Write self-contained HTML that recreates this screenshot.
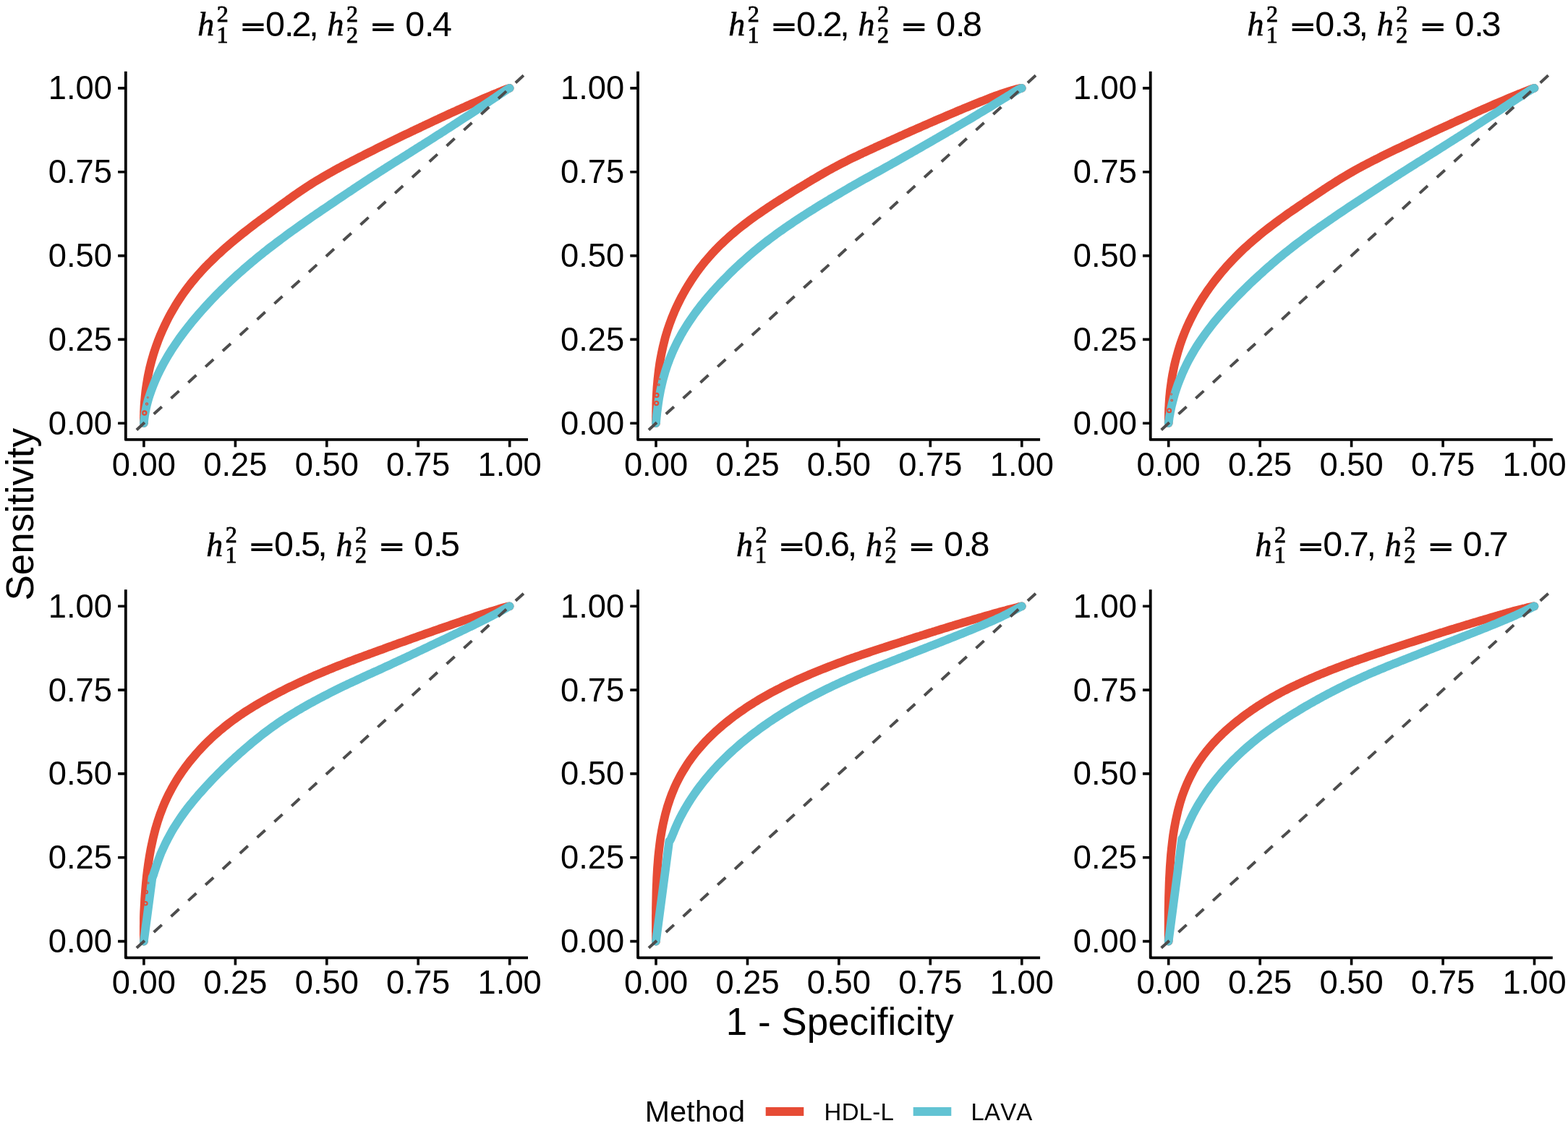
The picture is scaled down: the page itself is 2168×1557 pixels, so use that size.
<!DOCTYPE html>
<html lang="en">
<head>
<meta charset="utf-8">
<title>ROC curves: HDL-L vs LAVA</title>
<style>
html,body{margin:0;padding:0;background:#fff;}
body{width:2168px;height:1557px;overflow:hidden;}
svg{display:block;}
text{font-family:"Liberation Sans",sans-serif;fill:#000;font-kerning:none;}
.tick{font-size:45.3px;}
.axt{font-size:53px;}
.ttl{font-size:47px;}
.md{font-size:48.5px;}
.mi{font-family:"Liberation Serif",serif;font-style:italic;font-size:46px;stroke:#000;stroke-width:0.6px;}
.ms{font-family:"Liberation Serif",serif;font-size:32px;stroke:#000;stroke-width:0.8px;}
.meq{font-family:"DejaVu Sans","Liberation Sans",sans-serif;font-weight:200;font-size:43.5px;stroke:#000;stroke-width:1.9px;}
.lgt{font-size:41px;letter-spacing:0.3px;}
.lgl{font-size:33px;letter-spacing:0.2px;}
</style>
</head>
<body>
<svg width="2168" height="1557" viewBox="0 0 2168 1557" role="img" aria-label="ROC curves comparing HDL-L and LAVA across six heritability settings">
<rect x="0" y="0" width="2168" height="1557" fill="#ffffff"/>

<g id="panel1">
<clipPath id="cp0"><rect x="173.8" y="98.7" width="556.2" height="509.2"/></clipPath>
<path d="M198.9 585.2 L198.9 584.9 L198.9 584.9 L198.9 584.8 L198.9 584.8 L198.9 584.7 L198.9 584.7 L198.9 584.6 L198.9 584.5 L198.9 584.4 L198.9 584.2 L198.9 584.1 L198.9 583.9 L198.9 583.8 L198.9 583.6 L198.9 583.3 L198.9 583.1 L198.9 582.8 L198.9 582.5 L198.9 582.1 L198.9 581.7 L198.9 581.2 L198.9 580.7 L198.9 580.2 L198.9 579.5 L198.9 578.8 L198.9 578.0 L199.0 577.1 L199.0 576.2 L199.0 575.1 L199.0 573.9 L199.1 572.6 L199.1 571.1 L199.1 569.5 L199.2 567.7 L199.3 565.7 L199.4 563.6 L199.5 561.2 L199.7 558.6 L199.9 555.7 L200.2 552.6 L200.5 549.2 L200.9 545.4 L201.3 541.3 L201.9 536.8 L202.6 532.0 L203.5 526.6 L204.5 520.8 L205.8 514.5 L207.3 507.6 L209.2 500.2 L212.3 489.4 L215.4 480.0 L218.4 471.7 L221.4 464.1 L224.5 457.0 L227.5 450.5 L230.5 444.3 L233.4 438.5 L236.4 433.0 L239.4 427.8 L242.4 422.7 L245.4 417.9 L248.4 413.3 L251.4 408.8 L254.4 404.5 L257.5 400.3 L260.5 396.3 L263.6 392.3 L266.7 388.5 L269.7 384.9 L272.8 381.3 L275.9 377.8 L279.0 374.4 L282.1 371.1 L285.2 367.8 L288.3 364.7 L291.5 361.6 L294.6 358.5 L297.7 355.5 L300.8 352.6 L303.9 349.8 L307.0 346.9 L310.1 344.2 L313.2 341.4 L316.3 338.8 L319.4 336.1 L322.5 333.5 L325.6 331.0 L328.7 328.4 L331.8 325.9 L334.9 323.4 L338.0 321.0 L341.1 318.6 L344.1 316.2 L347.2 313.8 L350.3 311.5 L353.3 309.2 L356.4 306.9 L359.4 304.6 L362.5 302.4 L365.5 300.1 L368.6 297.9 L371.6 295.7 L374.6 293.5 L377.6 291.3 L380.6 289.1 L383.6 286.9 L386.6 284.7 L389.6 282.6 L392.6 280.4 L395.6 278.3 L398.5 276.1 L401.5 274.0 L404.5 271.9 L407.4 269.8 L410.4 267.7 L413.4 265.6 L416.4 263.6 L419.4 261.6 L422.4 259.6 L425.4 257.6 L428.4 255.7 L431.4 253.8 L434.4 251.9 L437.5 250.0 L440.5 248.2 L443.5 246.4 L446.6 244.6 L449.7 242.8 L452.7 241.1 L455.8 239.3 L458.9 237.6 L461.9 235.9 L465.0 234.2 L468.1 232.5 L471.2 230.9 L474.2 229.2 L477.3 227.6 L480.4 226.0 L483.5 224.4 L486.6 222.8 L489.7 221.2 L492.7 219.6 L495.8 218.0 L498.9 216.4 L502.0 214.9 L505.1 213.3 L508.1 211.8 L511.2 210.2 L514.3 208.7 L517.4 207.2 L520.4 205.6 L523.5 204.1 L526.6 202.6 L529.7 201.1 L532.7 199.6 L535.8 198.1 L538.8 196.6 L541.9 195.1 L545.0 193.6 L548.0 192.1 L551.1 190.6 L554.1 189.1 L557.2 187.6 L560.3 186.1 L563.3 184.7 L566.4 183.2 L569.4 181.7 L572.5 180.3 L575.5 178.8 L578.6 177.4 L581.6 175.9 L584.7 174.5 L587.7 173.0 L590.8 171.6 L593.8 170.2 L596.9 168.7 L599.9 167.3 L603.0 165.9 L606.0 164.5 L609.0 163.0 L612.1 161.6 L615.1 160.2 L618.2 158.8 L621.2 157.4 L624.3 156.0 L627.3 154.6 L630.4 153.3 L633.4 151.9 L636.5 150.5 L639.5 149.1 L642.6 147.8 L645.6 146.4 L648.7 145.0 L651.7 143.7 L654.8 142.3 L657.8 141.0 L660.9 139.7 L663.9 138.3 L667.0 137.0 L670.0 135.7 L673.1 134.4 L676.2 133.1 L679.2 131.8 L682.3 130.5 L685.4 129.3 L688.4 128.0 L691.5 126.8 L694.6 125.5 L698.4 124.0 L700.8 123.1 L702.3 122.6 L703.2 122.3 L703.8 122.1 L704.1 122.0 L704.7 121.9" fill="none" stroke="#e64b35" stroke-width="11.7" stroke-linecap="round" stroke-linejoin="round"/>
<path d="M198.9 585.2 L198.9 585.2 L198.9 585.2 L198.9 585.2 L198.9 585.2 L198.9 585.2 L198.9 585.2 L198.9 585.2 L198.9 585.2 L198.9 585.2 L198.9 585.2 L198.9 585.2 L198.9 585.2 L198.9 585.2 L198.9 585.1 L198.9 585.1 L198.9 585.1 L198.9 585.1 L198.9 585.0 L198.9 585.0 L198.9 585.0 L198.9 584.9 L198.9 584.8 L198.9 584.7 L198.9 584.6 L199.0 584.5 L199.0 584.4 L199.0 584.2 L199.0 583.9 L199.0 583.7 L199.1 583.4 L199.1 583.0 L199.1 582.5 L199.2 582.0 L199.3 581.4 L199.3 580.7 L199.4 579.8 L199.6 578.8 L199.7 577.7 L199.9 576.4 L200.1 574.9 L200.4 573.1 L200.7 571.1 L201.2 568.8 L201.7 566.1 L202.3 563.1 L203.1 559.7 L204.1 555.8 L205.3 551.4 L206.9 546.5 L208.8 541.0 L211.9 532.7 L215.0 525.2 L218.1 518.4 L221.2 512.0 L224.3 506.0 L227.4 500.3 L230.5 494.9 L233.5 489.8 L236.6 484.8 L239.7 480.1 L242.8 475.5 L245.9 471.0 L248.9 466.7 L252.0 462.5 L255.0 458.5 L258.1 454.5 L261.2 450.6 L264.2 446.8 L267.3 443.1 L270.3 439.5 L273.3 435.9 L276.4 432.4 L279.4 429.0 L282.4 425.6 L285.5 422.2 L288.5 419.0 L291.5 415.7 L294.6 412.5 L297.6 409.4 L300.6 406.3 L303.6 403.3 L306.7 400.3 L309.7 397.3 L312.7 394.3 L315.7 391.5 L318.8 388.6 L321.8 385.8 L324.8 383.0 L327.9 380.2 L330.9 377.5 L334.0 374.8 L337.0 372.1 L340.1 369.5 L343.1 366.9 L346.2 364.3 L349.2 361.7 L352.3 359.2 L355.3 356.6 L358.4 354.2 L361.5 351.7 L364.5 349.2 L367.6 346.8 L370.6 344.4 L373.7 342.0 L376.8 339.7 L379.9 337.3 L382.9 335.0 L386.0 332.7 L389.1 330.4 L392.2 328.1 L395.2 325.8 L398.3 323.6 L401.4 321.3 L404.4 319.1 L407.5 316.9 L410.6 314.7 L413.7 312.5 L416.7 310.4 L419.8 308.2 L422.9 306.0 L426.0 303.9 L429.0 301.8 L432.1 299.6 L435.2 297.5 L438.2 295.4 L441.3 293.3 L444.4 291.2 L447.4 289.1 L450.5 287.1 L453.6 285.0 L456.6 282.9 L459.7 280.8 L462.7 278.8 L465.8 276.7 L468.8 274.7 L471.9 272.6 L474.9 270.6 L478.0 268.5 L481.0 266.5 L484.1 264.5 L487.1 262.5 L490.1 260.4 L493.2 258.4 L496.2 256.4 L499.3 254.4 L502.3 252.4 L505.3 250.4 L508.4 248.4 L511.4 246.4 L514.5 244.4 L517.5 242.5 L520.6 240.5 L523.6 238.5 L526.7 236.6 L529.7 234.6 L532.8 232.7 L535.8 230.7 L538.9 228.8 L541.9 226.9 L545.0 224.9 L548.0 223.0 L551.1 221.1 L554.2 219.1 L557.2 217.2 L560.3 215.3 L563.3 213.3 L566.4 211.4 L569.4 209.5 L572.5 207.6 L575.5 205.6 L578.6 203.7 L581.6 201.8 L584.7 199.9 L587.7 197.9 L590.8 196.0 L593.8 194.1 L596.9 192.1 L599.9 190.2 L603.0 188.2 L606.0 186.3 L609.1 184.4 L612.1 182.4 L615.2 180.5 L618.2 178.5 L621.3 176.5 L624.3 174.6 L627.3 172.6 L630.4 170.7 L633.4 168.7 L636.5 166.7 L639.5 164.7 L642.6 162.7 L645.6 160.8 L648.7 158.8 L651.7 156.8 L654.8 154.8 L657.8 152.8 L660.9 150.7 L663.9 148.7 L667.0 146.7 L670.0 144.6 L673.1 142.6 L676.2 140.5 L679.2 138.5 L682.3 136.4 L685.4 134.4 L688.4 132.3 L691.5 130.2 L694.6 128.1 L698.4 125.5 L700.8 124.0 L702.3 123.0 L703.2 122.5 L703.8 122.2 L704.1 122.1 L704.7 121.9" fill="none" stroke="#62c3d3" stroke-width="11.7" stroke-linecap="round" stroke-linejoin="round"/>
<circle cx="199.8" cy="571.0" r="2.6" fill="none" stroke="#e64b35" stroke-width="2.2"/>
<circle cx="203.0" cy="558.6" r="1.5" fill="none" stroke="#e64b35" stroke-width="1.3"/>
<circle cx="204.4" cy="549.6" r="1.0" fill="none" stroke="#e64b35" stroke-width="1.0"/>
<line x1="173.6" y1="608.4" x2="730.0" y2="98.7" stroke="#4d4d4d" stroke-width="4" stroke-dasharray="15 17.3" stroke-dashoffset="-20.7" clip-path="url(#cp0)"/>
<path d="M173.8 98.7 V607.9 H730.0" fill="none" stroke="#000" stroke-width="3.8" stroke-linejoin="round"/>
<path d="M198.9 607.9 v10.3 M173.8 585.2 h-10.7 M325.4 607.9 v10.3 M173.8 469.4 h-10.7 M451.8 607.9 v10.3 M173.8 353.6 h-10.7 M578.2 607.9 v10.3 M173.8 237.7 h-10.7 M704.7 607.9 v10.3 M173.8 121.9 h-10.7" fill="none" stroke="#000" stroke-width="3.6"/>
<text class="tick" x="198.9" y="657.8" text-anchor="middle">0.00</text>
<text class="tick" x="155.0" y="600.6" text-anchor="end">0.00</text>
<text class="tick" x="325.4" y="657.8" text-anchor="middle">0.25</text>
<text class="tick" x="155.0" y="484.8" text-anchor="end">0.25</text>
<text class="tick" x="451.8" y="657.8" text-anchor="middle">0.50</text>
<text class="tick" x="155.0" y="369.0" text-anchor="end">0.50</text>
<text class="tick" x="578.2" y="657.8" text-anchor="middle">0.75</text>
<text class="tick" x="155.0" y="253.1" text-anchor="end">0.75</text>
<text class="tick" x="704.7" y="657.8" text-anchor="middle">1.00</text>
<text class="tick" x="155.0" y="137.3" text-anchor="end">1.00</text>
<text class="ttl"><tspan class="mi" x="273.3" y="49.4">h</tspan><tspan class="ms" x="299.8" y="30.2">2</tspan><tspan class="ms" x="299.4" y="59.0">1</tspan> <tspan class="meq" x="331.8" y="50.7">=</tspan><tspan class="md" x="367.0 393.1 403.6 427.2" y="50.0">0.2,</tspan> <tspan class="mi" x="452.4" y="49.4">h</tspan><tspan class="ms" x="479.0" y="30.2">2</tspan><tspan class="ms" x="479.0" y="59.0">2</tspan> <tspan class="meq" x="511.6" y="50.7">=</tspan> <tspan class="md" x="560.3 586.9 597.9" y="50.0">0.4</tspan></text>
</g>
<g id="panel2">
<clipPath id="cp1"><rect x="882.0" y="98.7" width="556.1" height="509.2"/></clipPath>
<path d="M907.0 585.2 L907.0 585.1 L907.0 585.1 L907.0 585.1 L907.0 585.1 L907.0 585.0 L907.0 585.0 L907.0 584.9 L907.0 584.9 L907.0 584.8 L907.0 584.7 L907.0 584.6 L907.0 584.5 L907.0 584.4 L907.0 584.2 L907.0 584.0 L907.0 583.8 L907.0 583.5 L907.0 583.2 L907.0 582.8 L907.0 582.4 L907.0 581.9 L907.0 581.3 L907.0 580.6 L907.0 579.9 L907.0 579.0 L907.0 578.0 L907.0 576.9 L907.0 575.7 L907.1 574.3 L907.1 572.7 L907.1 571.0 L907.1 569.0 L907.2 566.9 L907.2 564.5 L907.3 561.8 L907.3 558.9 L907.4 555.7 L907.5 552.2 L907.7 548.4 L907.9 544.2 L908.2 539.7 L908.5 534.7 L909.0 529.4 L909.5 523.6 L910.2 517.4 L911.0 510.7 L912.0 503.5 L913.3 495.8 L914.9 487.6 L916.8 478.8 L919.9 466.4 L923.1 455.9 L926.3 446.7 L929.4 438.4 L932.5 430.9 L935.6 424.0 L938.7 417.6 L941.7 411.6 L944.8 406.0 L947.8 400.7 L950.8 395.6 L953.8 390.8 L956.8 386.1 L959.8 381.7 L962.8 377.4 L965.8 373.3 L968.8 369.3 L971.8 365.5 L974.8 361.8 L977.9 358.2 L980.9 354.7 L983.9 351.3 L987.0 348.0 L990.0 344.8 L993.1 341.7 L996.1 338.7 L999.2 335.7 L1002.3 332.8 L1005.4 330.0 L1008.5 327.2 L1011.5 324.5 L1014.6 321.9 L1017.7 319.3 L1020.8 316.8 L1023.9 314.3 L1027.0 311.9 L1030.1 309.5 L1033.2 307.1 L1036.3 304.8 L1039.4 302.6 L1042.5 300.3 L1045.6 298.1 L1048.7 295.9 L1051.8 293.8 L1054.9 291.7 L1058.0 289.6 L1061.0 287.5 L1064.1 285.5 L1067.2 283.4 L1070.3 281.4 L1073.3 279.4 L1076.4 277.5 L1079.5 275.5 L1082.5 273.6 L1085.6 271.7 L1088.6 269.8 L1091.7 267.9 L1094.7 266.0 L1097.8 264.1 L1100.8 262.3 L1103.8 260.4 L1106.9 258.6 L1109.9 256.7 L1112.9 254.9 L1115.9 253.1 L1118.9 251.2 L1121.9 249.4 L1124.9 247.7 L1127.9 245.9 L1131.0 244.1 L1134.0 242.3 L1137.0 240.6 L1140.0 238.9 L1143.0 237.2 L1146.0 235.5 L1149.1 233.8 L1152.1 232.2 L1155.1 230.6 L1158.2 228.9 L1161.2 227.3 L1164.2 225.8 L1167.3 224.2 L1170.4 222.7 L1173.4 221.1 L1176.5 219.6 L1179.5 218.1 L1182.6 216.7 L1185.7 215.2 L1188.7 213.7 L1191.8 212.3 L1194.9 210.8 L1198.0 209.4 L1201.0 208.0 L1204.1 206.6 L1207.2 205.2 L1210.2 203.7 L1213.3 202.3 L1216.4 200.9 L1219.4 199.6 L1222.5 198.2 L1225.6 196.8 L1228.6 195.4 L1231.7 194.0 L1234.7 192.7 L1237.8 191.3 L1240.9 189.9 L1243.9 188.5 L1247.0 187.2 L1250.0 185.8 L1253.1 184.4 L1256.1 183.1 L1259.2 181.7 L1262.2 180.4 L1265.3 179.0 L1268.3 177.7 L1271.4 176.3 L1274.4 175.0 L1277.4 173.7 L1280.5 172.3 L1283.5 171.0 L1286.6 169.7 L1289.6 168.3 L1292.7 167.0 L1295.7 165.7 L1298.7 164.4 L1301.8 163.1 L1304.8 161.8 L1307.9 160.5 L1310.9 159.2 L1314.0 157.9 L1317.0 156.6 L1320.0 155.3 L1323.1 154.0 L1326.1 152.7 L1329.2 151.5 L1332.2 150.2 L1335.3 148.9 L1338.3 147.7 L1341.4 146.4 L1344.4 145.2 L1347.5 143.9 L1350.5 142.7 L1353.6 141.5 L1356.6 140.3 L1359.7 139.1 L1362.7 137.9 L1365.8 136.7 L1368.8 135.5 L1371.9 134.3 L1374.9 133.1 L1378.0 132.0 L1381.1 130.9 L1384.2 129.8 L1387.2 128.8 L1390.3 127.8 L1393.4 126.8 L1396.5 125.8 L1399.6 124.9 L1402.6 124.0 L1406.5 122.9 L1408.9 122.4 L1410.4 122.1 L1411.3 122.0 L1411.9 121.9 L1412.2 121.9 L1412.8 121.9" fill="none" stroke="#e64b35" stroke-width="11.7" stroke-linecap="round" stroke-linejoin="round"/>
<path d="M907.0 585.2 L907.0 585.2 L907.0 585.2 L907.0 585.2 L907.0 585.2 L907.0 585.2 L907.0 585.2 L907.0 585.2 L907.0 585.2 L907.0 585.2 L907.0 585.2 L907.0 585.2 L907.0 585.2 L907.0 585.1 L907.0 585.1 L907.0 585.1 L907.0 585.0 L907.0 585.0 L907.0 584.9 L907.0 584.9 L907.1 584.7 L907.1 584.6 L907.1 584.4 L907.1 584.2 L907.1 584.0 L907.2 583.7 L907.2 583.3 L907.2 582.8 L907.3 582.2 L907.3 581.5 L907.4 580.7 L907.5 579.7 L907.6 578.6 L907.7 577.2 L907.9 575.6 L908.1 573.7 L908.3 571.6 L908.6 569.1 L909.0 566.2 L909.4 563.0 L909.9 559.3 L910.5 555.1 L911.2 550.4 L912.2 545.1 L913.3 539.2 L914.8 532.7 L916.5 525.4 L919.5 514.8 L922.5 505.5 L925.6 497.1 L928.7 489.5 L931.8 482.4 L934.9 475.9 L938.1 469.7 L941.2 463.9 L944.3 458.5 L947.5 453.3 L950.6 448.3 L953.8 443.5 L956.9 438.9 L960.0 434.5 L963.1 430.3 L966.2 426.2 L969.3 422.2 L972.4 418.3 L975.5 414.5 L978.6 410.9 L981.7 407.3 L984.7 403.8 L987.8 400.4 L990.8 397.0 L993.9 393.8 L996.9 390.5 L999.9 387.4 L1003.0 384.3 L1006.0 381.2 L1009.0 378.2 L1012.0 375.3 L1015.0 372.3 L1018.0 369.5 L1021.0 366.7 L1024.0 363.9 L1027.1 361.2 L1030.1 358.5 L1033.1 355.8 L1036.1 353.2 L1039.1 350.6 L1042.1 348.1 L1045.2 345.5 L1048.2 343.1 L1051.2 340.6 L1054.3 338.2 L1057.3 335.8 L1060.3 333.5 L1063.4 331.1 L1066.4 328.9 L1069.5 326.6 L1072.5 324.3 L1075.6 322.1 L1078.6 319.9 L1081.7 317.8 L1084.8 315.6 L1087.8 313.5 L1090.9 311.4 L1094.0 309.3 L1097.0 307.2 L1100.1 305.2 L1103.2 303.1 L1106.2 301.1 L1109.3 299.1 L1112.4 297.2 L1115.5 295.2 L1118.5 293.2 L1121.6 291.3 L1124.7 289.4 L1127.7 287.4 L1130.8 285.5 L1133.9 283.6 L1136.9 281.8 L1140.0 279.9 L1143.1 278.0 L1146.2 276.2 L1149.2 274.3 L1152.3 272.5 L1155.4 270.7 L1158.4 268.9 L1161.5 267.1 L1164.6 265.3 L1167.6 263.5 L1170.7 261.7 L1173.8 259.9 L1176.8 258.1 L1179.9 256.4 L1183.0 254.6 L1186.1 252.9 L1189.1 251.2 L1192.2 249.4 L1195.3 247.7 L1198.4 246.0 L1201.4 244.3 L1204.5 242.6 L1207.6 240.9 L1210.6 239.2 L1213.7 237.5 L1216.8 235.8 L1219.9 234.1 L1222.9 232.4 L1226.0 230.7 L1229.0 229.0 L1232.1 227.3 L1235.1 225.5 L1238.2 223.8 L1241.2 222.1 L1244.3 220.4 L1247.3 218.7 L1250.4 216.9 L1253.4 215.2 L1256.4 213.5 L1259.5 211.8 L1262.5 210.0 L1265.5 208.3 L1268.6 206.5 L1271.6 204.8 L1274.6 203.1 L1277.7 201.3 L1280.7 199.6 L1283.7 197.9 L1286.8 196.1 L1289.8 194.4 L1292.8 192.6 L1295.9 190.9 L1298.9 189.1 L1301.9 187.4 L1305.0 185.6 L1308.0 183.9 L1311.0 182.1 L1314.1 180.4 L1317.1 178.6 L1320.1 176.8 L1323.2 175.1 L1326.2 173.3 L1329.3 171.5 L1332.3 169.7 L1335.3 168.0 L1338.4 166.2 L1341.4 164.4 L1344.5 162.6 L1347.5 160.8 L1350.6 158.9 L1353.6 157.1 L1356.7 155.3 L1359.7 153.5 L1362.8 151.6 L1365.8 149.8 L1368.9 147.9 L1371.9 146.0 L1375.0 144.1 L1378.0 142.2 L1381.1 140.3 L1384.1 138.5 L1387.2 136.6 L1390.3 134.7 L1393.4 132.8 L1396.5 130.9 L1399.5 129.0 L1402.6 127.1 L1406.5 124.7 L1408.9 123.4 L1410.4 122.7 L1411.3 122.3 L1411.9 122.1 L1412.2 122.0 L1412.8 121.9" fill="none" stroke="#62c3d3" stroke-width="11.7" stroke-linecap="round" stroke-linejoin="round"/>
<circle cx="907.6" cy="557.6" r="2.6" fill="none" stroke="#e64b35" stroke-width="2.2"/>
<circle cx="907.9" cy="546.4" r="2.6" fill="none" stroke="#e64b35" stroke-width="2.2"/>
<circle cx="910.8" cy="532.0" r="1.3" fill="none" stroke="#e64b35" stroke-width="1.1"/>
<circle cx="912.2" cy="524.3" r="0.9" fill="none" stroke="#e64b35" stroke-width="1.0"/>
<line x1="881.7" y1="608.4" x2="1438.1" y2="98.7" stroke="#4d4d4d" stroke-width="4" stroke-dasharray="15 17.3" stroke-dashoffset="-20.7" clip-path="url(#cp1)"/>
<path d="M882.0 98.7 V607.9 H1438.1" fill="none" stroke="#000" stroke-width="3.8" stroke-linejoin="round"/>
<path d="M907.0 607.9 v10.3 M882.0 585.2 h-10.7 M1033.5 607.9 v10.3 M882.0 469.4 h-10.7 M1159.9 607.9 v10.3 M882.0 353.6 h-10.7 M1286.3 607.9 v10.3 M882.0 237.7 h-10.7 M1412.8 607.9 v10.3 M882.0 121.9 h-10.7" fill="none" stroke="#000" stroke-width="3.6"/>
<text class="tick" x="907.0" y="657.8" text-anchor="middle">0.00</text>
<text class="tick" x="863.2" y="600.6" text-anchor="end">0.00</text>
<text class="tick" x="1033.5" y="657.8" text-anchor="middle">0.25</text>
<text class="tick" x="863.2" y="484.8" text-anchor="end">0.25</text>
<text class="tick" x="1159.9" y="657.8" text-anchor="middle">0.50</text>
<text class="tick" x="863.2" y="369.0" text-anchor="end">0.50</text>
<text class="tick" x="1286.3" y="657.8" text-anchor="middle">0.75</text>
<text class="tick" x="863.2" y="253.1" text-anchor="end">0.75</text>
<text class="tick" x="1412.8" y="657.8" text-anchor="middle">1.00</text>
<text class="tick" x="863.2" y="137.3" text-anchor="end">1.00</text>
<text class="ttl"><tspan class="mi" x="1007.3" y="49.4">h</tspan><tspan class="ms" x="1033.8" y="30.2">2</tspan><tspan class="ms" x="1033.4" y="59.0">1</tspan> <tspan class="meq" x="1065.8" y="50.7">=</tspan><tspan class="md" x="1101.0 1127.1 1137.6 1161.2" y="50.0">0.2,</tspan> <tspan class="mi" x="1186.4" y="49.4">h</tspan><tspan class="ms" x="1213.0" y="30.2">2</tspan><tspan class="ms" x="1213.0" y="59.0">2</tspan> <tspan class="meq" x="1245.6" y="50.7">=</tspan> <tspan class="md" x="1294.3 1320.9 1330.9" y="50.0">0.8</tspan></text>
</g>
<g id="panel3">
<clipPath id="cp2"><rect x="1590.7" y="98.7" width="556.1" height="509.2"/></clipPath>
<path d="M1615.7 585.2 L1615.7 585.0 L1615.7 585.0 L1615.7 585.0 L1615.7 584.9 L1615.7 584.9 L1615.7 584.8 L1615.7 584.8 L1615.7 584.7 L1615.7 584.6 L1615.7 584.5 L1615.7 584.4 L1615.7 584.3 L1615.7 584.1 L1615.7 583.9 L1615.7 583.7 L1615.7 583.5 L1615.7 583.3 L1615.7 583.0 L1615.7 582.6 L1615.7 582.3 L1615.7 581.8 L1615.7 581.3 L1615.7 580.8 L1615.7 580.2 L1615.7 579.5 L1615.7 578.7 L1615.7 577.9 L1615.8 576.9 L1615.8 575.8 L1615.8 574.6 L1615.8 573.2 L1615.9 571.8 L1615.9 570.1 L1616.0 568.3 L1616.0 566.2 L1616.1 564.0 L1616.3 561.5 L1616.4 558.8 L1616.6 555.8 L1616.8 552.5 L1617.1 548.8 L1617.5 544.9 L1617.9 540.6 L1618.5 535.8 L1619.2 530.7 L1620.0 525.0 L1621.0 518.9 L1622.3 512.3 L1623.8 505.0 L1625.7 497.2 L1628.8 486.0 L1631.8 476.2 L1634.9 467.5 L1638.0 459.7 L1641.0 452.4 L1644.1 445.7 L1647.2 439.4 L1650.2 433.5 L1653.3 427.9 L1656.3 422.6 L1659.4 417.5 L1662.4 412.6 L1665.5 408.0 L1668.5 403.4 L1671.5 399.1 L1674.6 394.9 L1677.6 390.8 L1680.6 386.9 L1683.7 383.0 L1686.7 379.3 L1689.7 375.6 L1692.8 372.1 L1695.8 368.6 L1698.9 365.3 L1701.9 362.0 L1705.0 358.7 L1708.0 355.6 L1711.1 352.5 L1714.1 349.5 L1717.2 346.5 L1720.3 343.6 L1723.4 340.8 L1726.5 338.0 L1729.5 335.3 L1732.6 332.6 L1735.7 330.0 L1738.8 327.4 L1741.9 324.8 L1745.0 322.3 L1748.1 319.8 L1751.2 317.4 L1754.3 315.0 L1757.4 312.6 L1760.4 310.3 L1763.5 308.0 L1766.6 305.7 L1769.7 303.4 L1772.8 301.2 L1775.9 299.0 L1778.9 296.8 L1782.0 294.6 L1785.1 292.5 L1788.1 290.4 L1791.2 288.3 L1794.3 286.2 L1797.3 284.1 L1800.4 282.0 L1803.4 280.0 L1806.4 277.9 L1809.5 275.9 L1812.5 273.9 L1815.5 271.8 L1818.5 269.8 L1821.5 267.8 L1824.5 265.8 L1827.5 263.8 L1830.5 261.8 L1833.5 259.9 L1836.5 257.9 L1839.5 256.0 L1842.5 254.1 L1845.5 252.2 L1848.5 250.3 L1851.5 248.4 L1854.5 246.5 L1857.5 244.7 L1860.5 242.9 L1863.6 241.1 L1866.6 239.4 L1869.7 237.6 L1872.7 235.9 L1875.8 234.2 L1878.8 232.5 L1881.9 230.9 L1884.9 229.2 L1888.0 227.6 L1891.1 226.0 L1894.2 224.4 L1897.2 222.8 L1900.3 221.3 L1903.4 219.7 L1906.5 218.2 L1909.5 216.6 L1912.6 215.1 L1915.7 213.6 L1918.8 212.1 L1921.9 210.6 L1925.0 209.1 L1928.0 207.6 L1931.1 206.1 L1934.2 204.7 L1937.3 203.2 L1940.3 201.7 L1943.4 200.3 L1946.5 198.8 L1949.5 197.4 L1952.6 195.9 L1955.7 194.5 L1958.7 193.0 L1961.8 191.6 L1964.9 190.2 L1967.9 188.7 L1971.0 187.3 L1974.1 185.9 L1977.1 184.5 L1980.2 183.0 L1983.2 181.6 L1986.3 180.2 L1989.3 178.8 L1992.4 177.4 L1995.4 176.0 L1998.5 174.6 L2001.5 173.2 L2004.6 171.8 L2007.6 170.4 L2010.7 169.0 L2013.7 167.6 L2016.8 166.2 L2019.8 164.9 L2022.9 163.5 L2025.9 162.1 L2028.9 160.7 L2032.0 159.3 L2035.0 158.0 L2038.1 156.6 L2041.1 155.2 L2044.2 153.9 L2047.2 152.5 L2050.2 151.2 L2053.3 149.8 L2056.3 148.5 L2059.4 147.2 L2062.4 145.8 L2065.5 144.5 L2068.5 143.2 L2071.6 141.9 L2074.6 140.6 L2077.7 139.3 L2080.7 138.0 L2083.8 136.7 L2086.8 135.4 L2089.9 134.1 L2093.0 132.8 L2096.0 131.6 L2099.1 130.3 L2102.2 129.1 L2105.2 127.9 L2108.3 126.7 L2111.4 125.5 L2115.2 124.0 L2117.6 123.1 L2119.1 122.6 L2120.0 122.3 L2120.6 122.1 L2120.9 122.0 L2121.5 121.9" fill="none" stroke="#e64b35" stroke-width="11.7" stroke-linecap="round" stroke-linejoin="round"/>
<path d="M1615.7 585.2 L1615.7 585.2 L1615.7 585.2 L1615.7 585.2 L1615.7 585.2 L1615.7 585.2 L1615.7 585.2 L1615.7 585.2 L1615.7 585.2 L1615.7 585.2 L1615.7 585.2 L1615.7 585.2 L1615.7 585.2 L1615.7 585.2 L1615.7 585.1 L1615.7 585.1 L1615.7 585.1 L1615.7 585.1 L1615.7 585.0 L1615.7 585.0 L1615.7 584.9 L1615.8 584.8 L1615.8 584.7 L1615.8 584.6 L1615.8 584.5 L1615.8 584.3 L1615.9 584.1 L1615.9 583.8 L1615.9 583.5 L1616.0 583.1 L1616.0 582.6 L1616.1 582.0 L1616.2 581.3 L1616.3 580.5 L1616.5 579.6 L1616.6 578.4 L1616.8 577.1 L1617.1 575.6 L1617.4 573.8 L1617.8 571.8 L1618.2 569.4 L1618.8 566.7 L1619.4 563.6 L1620.2 560.0 L1621.2 556.0 L1622.4 551.4 L1623.8 546.3 L1625.6 540.4 L1628.6 531.7 L1631.6 523.9 L1634.6 516.7 L1637.6 510.0 L1640.6 503.8 L1643.6 497.9 L1646.7 492.3 L1649.8 487.0 L1652.8 481.9 L1655.9 477.0 L1659.0 472.3 L1662.1 467.7 L1665.2 463.3 L1668.3 459.1 L1671.4 455.0 L1674.5 451.0 L1677.5 447.0 L1680.6 443.2 L1683.7 439.5 L1686.8 435.9 L1689.9 432.3 L1693.0 428.8 L1696.1 425.4 L1699.1 422.0 L1702.2 418.7 L1705.3 415.5 L1708.3 412.3 L1711.4 409.1 L1714.5 406.0 L1717.5 403.0 L1720.6 399.9 L1723.6 397.0 L1726.6 394.0 L1729.7 391.1 L1732.7 388.2 L1735.8 385.4 L1738.8 382.6 L1741.8 379.8 L1744.9 377.1 L1747.9 374.3 L1750.9 371.6 L1753.9 369.0 L1757.0 366.4 L1760.0 363.7 L1763.0 361.2 L1766.1 358.6 L1769.1 356.1 L1772.2 353.6 L1775.2 351.1 L1778.3 348.6 L1781.3 346.2 L1784.4 343.8 L1787.4 341.4 L1790.5 339.0 L1793.5 336.7 L1796.6 334.4 L1799.7 332.1 L1802.7 329.8 L1805.8 327.5 L1808.9 325.3 L1811.9 323.0 L1815.0 320.8 L1818.1 318.6 L1821.2 316.4 L1824.2 314.2 L1827.3 312.1 L1830.4 309.9 L1833.5 307.8 L1836.5 305.7 L1839.6 303.6 L1842.7 301.5 L1845.8 299.4 L1848.8 297.3 L1851.9 295.2 L1855.0 293.1 L1858.0 291.1 L1861.1 289.0 L1864.2 286.9 L1867.2 284.9 L1870.3 282.9 L1873.4 280.8 L1876.4 278.8 L1879.5 276.8 L1882.5 274.8 L1885.6 272.8 L1888.6 270.8 L1891.7 268.8 L1894.7 266.8 L1897.8 264.8 L1900.9 262.8 L1903.9 260.8 L1907.0 258.8 L1910.0 256.9 L1913.1 254.9 L1916.1 252.9 L1919.1 251.0 L1922.2 249.0 L1925.2 247.0 L1928.3 245.1 L1931.3 243.1 L1934.4 241.2 L1937.4 239.2 L1940.5 237.3 L1943.5 235.4 L1946.6 233.4 L1949.6 231.5 L1952.7 229.6 L1955.7 227.7 L1958.8 225.7 L1961.8 223.8 L1964.9 221.9 L1967.9 220.0 L1971.0 218.1 L1974.0 216.1 L1977.1 214.2 L1980.1 212.3 L1983.2 210.4 L1986.2 208.5 L1989.3 206.5 L1992.3 204.6 L1995.3 202.7 L1998.4 200.8 L2001.4 198.9 L2004.5 196.9 L2007.5 195.0 L2010.6 193.1 L2013.6 191.1 L2016.7 189.2 L2019.7 187.3 L2022.7 185.3 L2025.8 183.4 L2028.8 181.4 L2031.9 179.5 L2034.9 177.5 L2037.9 175.6 L2041.0 173.6 L2044.0 171.6 L2047.1 169.7 L2050.1 167.7 L2053.2 165.7 L2056.2 163.7 L2059.3 161.7 L2062.3 159.8 L2065.4 157.8 L2068.4 155.8 L2071.5 153.8 L2074.5 151.8 L2077.6 149.7 L2080.6 147.7 L2083.7 145.7 L2086.7 143.7 L2089.8 141.6 L2092.9 139.6 L2095.9 137.6 L2099.0 135.5 L2102.1 133.5 L2105.2 131.5 L2108.3 129.5 L2111.3 127.5 L2115.2 125.0 L2117.6 123.6 L2119.1 122.8 L2120.0 122.3 L2120.6 122.1 L2120.9 122.0 L2121.5 121.9" fill="none" stroke="#62c3d3" stroke-width="11.7" stroke-linecap="round" stroke-linejoin="round"/>
<circle cx="1616.6" cy="567.7" r="2.5" fill="none" stroke="#e64b35" stroke-width="2.1"/>
<circle cx="1620.2" cy="553.5" r="1.3" fill="none" stroke="#e64b35" stroke-width="1.1"/>
<circle cx="1619.6" cy="545.2" r="1.1" fill="none" stroke="#e64b35" stroke-width="1.0"/>
<line x1="1590.4" y1="608.4" x2="2146.8" y2="98.7" stroke="#4d4d4d" stroke-width="4" stroke-dasharray="15 17.3" stroke-dashoffset="-20.7" clip-path="url(#cp2)"/>
<path d="M1590.7 98.7 V607.9 H2146.8" fill="none" stroke="#000" stroke-width="3.8" stroke-linejoin="round"/>
<path d="M1615.7 607.9 v10.3 M1590.7 585.2 h-10.7 M1742.2 607.9 v10.3 M1590.7 469.4 h-10.7 M1868.6 607.9 v10.3 M1590.7 353.6 h-10.7 M1995.1 607.9 v10.3 M1590.7 237.7 h-10.7 M2121.5 607.9 v10.3 M1590.7 121.9 h-10.7" fill="none" stroke="#000" stroke-width="3.6"/>
<text class="tick" x="1615.7" y="657.8" text-anchor="middle">0.00</text>
<text class="tick" x="1571.9" y="600.6" text-anchor="end">0.00</text>
<text class="tick" x="1742.2" y="657.8" text-anchor="middle">0.25</text>
<text class="tick" x="1571.9" y="484.8" text-anchor="end">0.25</text>
<text class="tick" x="1868.6" y="657.8" text-anchor="middle">0.50</text>
<text class="tick" x="1571.9" y="369.0" text-anchor="end">0.50</text>
<text class="tick" x="1995.1" y="657.8" text-anchor="middle">0.75</text>
<text class="tick" x="1571.9" y="253.1" text-anchor="end">0.75</text>
<text class="tick" x="2121.5" y="657.8" text-anchor="middle">1.00</text>
<text class="tick" x="1571.9" y="137.3" text-anchor="end">1.00</text>
<text class="ttl"><tspan class="mi" x="1724.6" y="49.4">h</tspan><tspan class="ms" x="1751.1" y="30.2">2</tspan><tspan class="ms" x="1750.7" y="59.0">1</tspan> <tspan class="meq" x="1783.1" y="50.7">=</tspan><tspan class="md" x="1818.3 1844.4 1855.5 1878.5" y="50.0">0.3,</tspan> <tspan class="mi" x="1903.7" y="49.4">h</tspan><tspan class="ms" x="1930.3" y="30.2">2</tspan><tspan class="ms" x="1930.3" y="59.0">2</tspan> <tspan class="meq" x="1962.9" y="50.7">=</tspan> <tspan class="md" x="2011.6 2038.2 2048.5" y="50.0">0.3</tspan></text>
</g>
<g id="panel4">
<clipPath id="cp3"><rect x="173.8" y="815.2" width="556.2" height="509.1"/></clipPath>
<path d="M198.9 1301.6 L198.9 1301.6 L198.9 1301.6 L198.9 1301.6 L198.9 1301.6 L198.9 1301.6 L198.9 1301.6 L198.9 1301.5 L198.9 1301.5 L198.9 1301.5 L198.9 1301.5 L198.9 1301.4 L198.9 1301.3 L198.9 1301.3 L198.9 1301.2 L198.9 1301.0 L198.9 1300.9 L198.9 1300.7 L198.9 1300.5 L198.9 1300.2 L198.9 1299.9 L198.9 1299.5 L198.9 1299.0 L198.9 1298.4 L198.9 1297.7 L198.9 1296.9 L198.9 1295.9 L198.9 1294.8 L198.9 1293.5 L198.8 1292.0 L198.8 1290.2 L198.8 1288.3 L198.8 1286.0 L198.8 1283.5 L198.8 1280.6 L198.9 1277.4 L198.9 1273.8 L198.9 1269.8 L199.0 1265.4 L199.2 1260.6 L199.5 1255.3 L199.8 1249.5 L200.1 1243.2 L200.6 1236.3 L201.2 1229.0 L201.9 1221.1 L202.7 1212.7 L203.8 1203.7 L205.1 1194.1 L206.7 1184.0 L208.6 1173.3 L211.8 1158.5 L214.9 1146.2 L218.1 1135.6 L221.3 1126.2 L224.5 1117.8 L227.6 1110.3 L230.8 1103.3 L233.9 1096.9 L237.1 1090.9 L240.2 1085.4 L243.3 1080.1 L246.4 1075.2 L249.5 1070.5 L252.6 1066.0 L255.6 1061.8 L258.7 1057.7 L261.7 1053.8 L264.8 1050.0 L267.8 1046.4 L270.8 1042.9 L273.8 1039.5 L276.8 1036.2 L279.8 1033.0 L282.8 1029.9 L285.8 1026.9 L288.8 1024.0 L291.8 1021.1 L294.8 1018.3 L297.8 1015.6 L300.8 1013.0 L303.8 1010.4 L306.8 1007.9 L309.8 1005.4 L312.9 1003.0 L315.9 1000.6 L318.9 998.3 L321.9 996.1 L325.0 993.9 L328.0 991.7 L331.0 989.6 L334.1 987.6 L337.1 985.5 L340.2 983.5 L343.2 981.6 L346.3 979.7 L349.4 977.8 L352.4 975.9 L355.5 974.1 L358.5 972.3 L361.6 970.5 L364.6 968.8 L367.7 967.1 L370.8 965.4 L373.8 963.7 L376.9 962.1 L379.9 960.5 L383.0 958.9 L386.1 957.3 L389.1 955.7 L392.2 954.2 L395.2 952.6 L398.3 951.1 L401.4 949.6 L404.4 948.2 L407.5 946.7 L410.5 945.3 L413.6 943.8 L416.7 942.4 L419.7 941.0 L422.8 939.6 L425.8 938.3 L428.9 936.9 L432.0 935.5 L435.0 934.2 L438.1 932.9 L441.1 931.6 L444.2 930.3 L447.3 929.0 L450.3 927.7 L453.4 926.5 L456.4 925.2 L459.5 924.0 L462.6 922.7 L465.6 921.5 L468.7 920.3 L471.8 919.1 L474.8 917.9 L477.9 916.7 L480.9 915.5 L484.0 914.3 L487.1 913.2 L490.1 912.0 L493.2 910.8 L496.2 909.7 L499.3 908.6 L502.4 907.4 L505.4 906.3 L508.5 905.2 L511.5 904.0 L514.6 902.9 L517.7 901.8 L520.7 900.7 L523.8 899.6 L526.8 898.5 L529.9 897.4 L532.9 896.2 L536.0 895.1 L539.0 894.0 L542.1 892.9 L545.1 891.8 L548.2 890.7 L551.2 889.6 L554.2 888.5 L557.3 887.5 L560.3 886.4 L563.4 885.3 L566.4 884.2 L569.5 883.1 L572.5 882.0 L575.5 880.9 L578.6 879.8 L581.6 878.8 L584.7 877.7 L587.7 876.6 L590.8 875.5 L593.8 874.5 L596.8 873.4 L599.9 872.3 L602.9 871.3 L606.0 870.2 L609.0 869.1 L612.0 868.1 L615.1 867.0 L618.1 866.0 L621.2 864.9 L624.2 863.9 L627.3 862.8 L630.3 861.8 L633.4 860.7 L636.4 859.7 L639.5 858.6 L642.5 857.6 L645.5 856.5 L648.6 855.5 L651.6 854.5 L654.7 853.4 L657.7 852.4 L660.8 851.4 L663.9 850.4 L666.9 849.3 L670.0 848.3 L673.0 847.3 L676.1 846.4 L679.2 845.4 L682.2 844.5 L685.3 843.5 L688.4 842.6 L691.5 841.6 L694.5 840.7 L698.4 839.6 L700.8 839.0 L702.3 838.6 L703.2 838.5 L703.8 838.4 L704.1 838.3 L704.7 838.3" fill="none" stroke="#e64b35" stroke-width="11.7" stroke-linecap="round" stroke-linejoin="round"/>
<path d="M198.9 1301.6 L210.5 1213.4 L210.5 1213.4 L210.5 1213.4 L210.5 1213.4 L210.5 1213.4 L210.5 1213.4 L210.6 1213.4 L210.6 1213.4 L210.6 1213.4 L210.6 1213.4 L210.6 1213.4 L210.6 1213.3 L210.7 1213.3 L210.7 1213.3 L210.8 1213.2 L210.8 1213.1 L210.9 1213.0 L211.0 1212.9 L211.1 1212.6 L211.2 1212.4 L211.3 1212.0 L211.5 1211.5 L211.7 1210.9 L212.0 1210.2 L212.3 1209.2 L212.7 1207.9 L213.2 1206.4 L213.8 1204.5 L214.6 1202.2 L215.5 1199.4 L216.6 1196.0 L218.0 1192.0 L219.7 1187.3 L222.5 1179.9 L225.6 1173.1 L228.6 1166.6 L231.7 1160.5 L234.8 1154.8 L237.8 1149.3 L240.9 1144.1 L244.1 1139.1 L247.2 1134.3 L250.3 1129.7 L253.5 1125.3 L256.6 1121.0 L259.7 1116.9 L262.8 1113.0 L266.0 1109.1 L269.1 1105.3 L272.2 1101.7 L275.2 1098.1 L278.3 1094.7 L281.3 1091.3 L284.4 1087.9 L287.4 1084.7 L290.4 1081.5 L293.4 1078.3 L296.3 1075.3 L299.3 1072.2 L302.3 1069.2 L305.2 1066.3 L308.1 1063.4 L311.1 1060.6 L314.0 1057.8 L316.9 1055.0 L319.8 1052.3 L322.8 1049.6 L325.7 1046.9 L328.6 1044.3 L331.5 1041.7 L334.4 1039.2 L337.3 1036.6 L340.2 1034.1 L343.1 1031.7 L346.0 1029.2 L348.8 1026.8 L351.7 1024.4 L354.6 1022.1 L357.5 1019.8 L360.4 1017.5 L363.3 1015.2 L366.2 1013.0 L369.2 1010.8 L372.1 1008.6 L375.0 1006.4 L377.9 1004.3 L380.9 1002.3 L383.8 1000.2 L386.8 998.2 L389.8 996.2 L392.7 994.3 L395.7 992.3 L398.7 990.4 L401.7 988.6 L404.7 986.7 L407.7 984.9 L410.7 983.1 L413.7 981.3 L416.7 979.6 L419.7 977.8 L422.7 976.1 L425.7 974.4 L428.8 972.7 L431.8 971.1 L434.8 969.4 L437.8 967.8 L440.8 966.2 L443.8 964.6 L446.9 963.0 L449.9 961.4 L452.9 959.9 L455.9 958.3 L459.0 956.8 L462.0 955.3 L465.0 953.8 L468.0 952.3 L471.1 950.8 L474.1 949.3 L477.1 947.9 L480.1 946.4 L483.2 945.0 L486.2 943.6 L489.2 942.2 L492.3 940.8 L495.3 939.4 L498.3 938.0 L501.3 936.6 L504.4 935.2 L507.4 933.8 L510.4 932.4 L513.4 931.1 L516.5 929.7 L519.5 928.3 L522.5 927.0 L525.5 925.6 L528.5 924.2 L531.5 922.8 L534.5 921.4 L537.5 920.1 L540.5 918.7 L543.4 917.3 L546.4 915.9 L549.4 914.5 L552.4 913.1 L555.4 911.7 L558.3 910.4 L561.3 909.0 L564.3 907.6 L567.3 906.2 L570.2 904.8 L573.2 903.4 L576.2 902.0 L579.1 900.6 L582.1 899.2 L585.0 897.8 L588.0 896.4 L591.0 895.0 L593.9 893.6 L596.9 892.1 L599.8 890.7 L602.8 889.3 L605.8 887.9 L608.7 886.5 L611.7 885.1 L614.6 883.7 L617.6 882.3 L620.6 880.9 L623.5 879.4 L626.5 878.0 L629.4 876.6 L632.4 875.2 L635.4 873.8 L638.3 872.3 L641.3 870.9 L644.3 869.5 L647.2 868.1 L650.2 866.6 L653.2 865.2 L656.1 863.7 L659.1 862.3 L662.1 860.8 L665.1 859.3 L668.0 857.8 L671.0 856.4 L674.0 854.8 L677.0 853.3 L679.9 851.8 L682.9 850.2 L685.9 848.6 L688.9 847.0 L691.8 845.4 L694.8 843.7 L698.6 841.5 L700.9 840.2 L702.4 839.4 L703.3 838.9 L703.8 838.6 L704.1 838.5 L704.7 838.3" fill="none" stroke="#62c3d3" stroke-width="11.7" stroke-linecap="round" stroke-linejoin="round"/>
<circle cx="201.3" cy="1249.3" r="2.3" fill="none" stroke="#e64b35" stroke-width="2.0"/>
<circle cx="202.1" cy="1233.4" r="2.0" fill="none" stroke="#e64b35" stroke-width="1.7"/>
<circle cx="204.8" cy="1221.0" r="1.2" fill="none" stroke="#e64b35" stroke-width="1.0"/>
<line x1="173.6" y1="1324.8" x2="730.0" y2="815.1" stroke="#4d4d4d" stroke-width="4" stroke-dasharray="15 17.3" stroke-dashoffset="-20.7" clip-path="url(#cp3)"/>
<path d="M173.8 815.2 V1324.3 H730.0" fill="none" stroke="#000" stroke-width="3.8" stroke-linejoin="round"/>
<path d="M198.9 1324.3 v10.3 M173.8 1301.6 h-10.7 M325.4 1324.3 v10.3 M173.8 1185.8 h-10.7 M451.8 1324.3 v10.3 M173.8 1069.9 h-10.7 M578.2 1324.3 v10.3 M173.8 954.1 h-10.7 M704.7 1324.3 v10.3 M173.8 838.3 h-10.7" fill="none" stroke="#000" stroke-width="3.6"/>
<text class="tick" x="198.9" y="1374.2" text-anchor="middle">0.00</text>
<text class="tick" x="155.0" y="1317.0" text-anchor="end">0.00</text>
<text class="tick" x="325.4" y="1374.2" text-anchor="middle">0.25</text>
<text class="tick" x="155.0" y="1201.2" text-anchor="end">0.25</text>
<text class="tick" x="451.8" y="1374.2" text-anchor="middle">0.50</text>
<text class="tick" x="155.0" y="1085.3" text-anchor="end">0.50</text>
<text class="tick" x="578.2" y="1374.2" text-anchor="middle">0.75</text>
<text class="tick" x="155.0" y="969.5" text-anchor="end">0.75</text>
<text class="tick" x="704.7" y="1374.2" text-anchor="middle">1.00</text>
<text class="tick" x="155.0" y="853.7" text-anchor="end">1.00</text>
<text class="ttl"><tspan class="mi" x="285.3" y="768.8">h</tspan><tspan class="ms" x="311.8" y="749.6">2</tspan><tspan class="ms" x="311.4" y="778.4">1</tspan> <tspan class="meq" x="343.8" y="770.1">=</tspan><tspan class="md" x="379.0 405.1 416.1 439.2" y="769.4">0.5,</tspan> <tspan class="mi" x="464.4" y="768.8">h</tspan><tspan class="ms" x="491.0" y="749.6">2</tspan><tspan class="ms" x="491.0" y="778.4">2</tspan> <tspan class="meq" x="523.6" y="770.1">=</tspan> <tspan class="md" x="572.3 598.9 609.1" y="769.4">0.5</tspan></text>
</g>
<g id="panel5">
<clipPath id="cp4"><rect x="882.0" y="815.2" width="556.1" height="509.1"/></clipPath>
<path d="M907.0 1301.6 L907.0 1300.6 L907.0 1300.4 L907.0 1300.2 L907.0 1300.0 L907.0 1299.7 L907.0 1299.4 L907.0 1299.1 L907.0 1298.7 L907.0 1298.3 L907.0 1297.8 L907.0 1297.3 L907.0 1296.7 L907.0 1296.0 L907.0 1295.3 L907.0 1294.4 L907.0 1293.5 L907.0 1292.5 L907.0 1291.4 L907.0 1290.1 L906.9 1288.8 L906.9 1287.3 L906.9 1285.6 L906.9 1283.8 L906.9 1281.9 L906.9 1279.8 L906.9 1277.5 L906.9 1275.0 L906.9 1272.2 L906.9 1269.3 L906.9 1266.2 L907.0 1262.8 L907.0 1259.2 L907.0 1255.3 L907.1 1251.1 L907.2 1246.6 L907.3 1241.9 L907.4 1236.9 L907.5 1231.5 L907.7 1225.8 L908.0 1219.8 L908.2 1213.5 L908.6 1206.7 L909.0 1199.7 L909.6 1192.2 L910.2 1184.4 L911.1 1176.2 L912.1 1167.6 L913.3 1158.6 L914.9 1149.2 L916.8 1139.4 L919.9 1126.0 L923.0 1114.9 L926.2 1105.3 L929.3 1096.9 L932.4 1089.4 L935.5 1082.6 L938.7 1076.4 L941.8 1070.6 L944.9 1065.3 L948.0 1060.3 L951.0 1055.5 L954.1 1051.1 L957.2 1046.9 L960.3 1042.8 L963.3 1039.0 L966.4 1035.3 L969.5 1031.8 L972.5 1028.4 L975.6 1025.1 L978.6 1022.0 L981.6 1018.9 L984.7 1016.0 L987.7 1013.1 L990.7 1010.3 L993.8 1007.6 L996.8 1005.0 L999.8 1002.4 L1002.8 999.9 L1005.9 997.5 L1008.9 995.1 L1011.9 992.7 L1015.0 990.4 L1018.0 988.2 L1021.0 986.0 L1024.0 983.9 L1027.1 981.8 L1030.1 979.7 L1033.1 977.7 L1036.1 975.7 L1039.2 973.8 L1042.2 971.8 L1045.3 970.0 L1048.3 968.1 L1051.3 966.3 L1054.4 964.5 L1057.4 962.8 L1060.5 961.1 L1063.5 959.4 L1066.6 957.7 L1069.6 956.1 L1072.7 954.5 L1075.7 952.9 L1078.8 951.4 L1081.9 949.8 L1084.9 948.3 L1088.0 946.8 L1091.0 945.4 L1094.1 943.9 L1097.2 942.5 L1100.2 941.1 L1103.3 939.7 L1106.3 938.3 L1109.4 937.0 L1112.5 935.6 L1115.5 934.3 L1118.6 933.0 L1121.7 931.7 L1124.7 930.4 L1127.8 929.1 L1130.8 927.9 L1133.9 926.6 L1137.0 925.4 L1140.0 924.2 L1143.1 923.0 L1146.2 921.8 L1149.2 920.6 L1152.3 919.4 L1155.4 918.3 L1158.4 917.1 L1161.5 916.0 L1164.5 914.9 L1167.6 913.7 L1170.7 912.6 L1173.7 911.5 L1176.8 910.4 L1179.9 909.4 L1182.9 908.3 L1186.0 907.2 L1189.1 906.2 L1192.1 905.1 L1195.2 904.1 L1198.3 903.1 L1201.3 902.1 L1204.4 901.0 L1207.5 900.0 L1210.5 899.0 L1213.6 898.0 L1216.7 897.0 L1219.7 896.0 L1222.8 895.1 L1225.8 894.1 L1228.9 893.1 L1231.9 892.1 L1235.0 891.1 L1238.1 890.2 L1241.1 889.2 L1244.2 888.2 L1247.2 887.2 L1250.3 886.3 L1253.3 885.3 L1256.4 884.3 L1259.4 883.3 L1262.5 882.4 L1265.5 881.4 L1268.5 880.4 L1271.6 879.5 L1274.6 878.5 L1277.7 877.6 L1280.7 876.6 L1283.8 875.6 L1286.8 874.7 L1289.8 873.7 L1292.9 872.8 L1295.9 871.8 L1299.0 870.9 L1302.0 869.9 L1305.0 869.0 L1308.1 868.1 L1311.1 867.1 L1314.2 866.2 L1317.2 865.3 L1320.2 864.3 L1323.3 863.4 L1326.3 862.5 L1329.4 861.6 L1332.4 860.7 L1335.5 859.8 L1338.5 858.9 L1341.5 858.0 L1344.6 857.1 L1347.6 856.2 L1350.7 855.3 L1353.7 854.4 L1356.8 853.5 L1359.8 852.6 L1362.9 851.7 L1365.9 850.9 L1369.0 850.0 L1372.0 849.1 L1375.1 848.2 L1378.1 847.4 L1381.2 846.5 L1384.3 845.7 L1387.3 844.9 L1390.4 844.1 L1393.5 843.2 L1396.5 842.4 L1399.6 841.6 L1402.6 840.8 L1406.5 839.8 L1408.9 839.1 L1410.4 838.8 L1411.3 838.6 L1411.9 838.4 L1412.2 838.4 L1412.8 838.3" fill="none" stroke="#e64b35" stroke-width="11.7" stroke-linecap="round" stroke-linejoin="round"/>
<path d="M907.0 1301.6 L925.2 1163.4 L925.2 1163.4 L925.3 1163.4 L925.3 1163.4 L925.3 1163.4 L925.3 1163.4 L925.3 1163.4 L925.4 1163.4 L925.4 1163.4 L925.5 1163.3 L925.5 1163.3 L925.6 1163.3 L925.7 1163.2 L925.8 1163.1 L925.9 1163.0 L926.0 1162.8 L926.2 1162.6 L926.4 1162.2 L926.7 1161.8 L927.0 1161.1 L927.4 1160.3 L927.9 1159.3 L928.5 1157.9 L929.3 1156.1 L930.2 1153.9 L931.3 1151.2 L932.6 1147.9 L934.3 1143.9 L937.1 1137.5 L940.0 1131.4 L943.0 1125.7 L946.0 1120.2 L949.1 1115.0 L952.1 1110.0 L955.2 1105.2 L958.2 1100.6 L961.2 1096.2 L964.2 1092.0 L967.3 1087.9 L970.3 1084.0 L973.3 1080.2 L976.3 1076.5 L979.3 1072.9 L982.2 1069.4 L985.2 1066.0 L988.2 1062.8 L991.1 1059.5 L994.1 1056.4 L997.1 1053.4 L1000.0 1050.4 L1003.0 1047.5 L1005.9 1044.6 L1008.8 1041.9 L1011.8 1039.1 L1014.7 1036.5 L1017.7 1033.9 L1020.6 1031.3 L1023.5 1028.8 L1026.5 1026.3 L1029.4 1023.9 L1032.3 1021.6 L1035.3 1019.2 L1038.2 1016.9 L1041.1 1014.7 L1044.1 1012.5 L1047.0 1010.3 L1049.9 1008.1 L1052.8 1006.0 L1055.8 1003.9 L1058.7 1001.9 L1061.6 999.8 L1064.5 997.8 L1067.5 995.8 L1070.4 993.9 L1073.3 992.0 L1076.2 990.1 L1079.2 988.2 L1082.1 986.3 L1085.0 984.5 L1087.9 982.7 L1090.9 980.9 L1093.8 979.2 L1096.7 977.4 L1099.6 975.7 L1102.6 974.0 L1105.5 972.4 L1108.4 970.7 L1111.4 969.1 L1114.3 967.5 L1117.3 965.9 L1120.2 964.3 L1123.1 962.7 L1126.1 961.2 L1129.0 959.7 L1132.0 958.2 L1134.9 956.7 L1137.9 955.2 L1140.8 953.8 L1143.8 952.3 L1146.7 950.9 L1149.7 949.5 L1152.6 948.1 L1155.6 946.7 L1158.5 945.3 L1161.5 944.0 L1164.4 942.6 L1167.4 941.3 L1170.4 940.0 L1173.3 938.7 L1176.3 937.4 L1179.2 936.1 L1182.2 934.8 L1185.2 933.5 L1188.1 932.3 L1191.1 931.0 L1194.0 929.8 L1197.0 928.6 L1200.0 927.4 L1202.9 926.2 L1205.9 925.0 L1208.9 923.8 L1211.8 922.6 L1214.8 921.4 L1217.8 920.2 L1220.7 919.1 L1223.7 917.9 L1226.7 916.8 L1229.6 915.6 L1232.6 914.4 L1235.5 913.3 L1238.5 912.1 L1241.4 911.0 L1244.4 909.8 L1247.4 908.7 L1250.3 907.5 L1253.3 906.4 L1256.2 905.2 L1259.2 904.1 L1262.1 902.9 L1265.0 901.8 L1268.0 900.6 L1270.9 899.5 L1273.9 898.3 L1276.8 897.2 L1279.8 896.0 L1282.7 894.9 L1285.6 893.7 L1288.6 892.6 L1291.5 891.4 L1294.5 890.3 L1297.4 889.1 L1300.3 888.0 L1303.3 886.8 L1306.2 885.6 L1309.1 884.5 L1312.1 883.3 L1315.0 882.1 L1317.9 881.0 L1320.9 879.8 L1323.8 878.6 L1326.8 877.4 L1329.7 876.3 L1332.6 875.1 L1335.6 873.9 L1338.5 872.7 L1341.4 871.5 L1344.4 870.3 L1347.3 869.1 L1350.2 867.9 L1353.2 866.6 L1356.1 865.4 L1359.1 864.2 L1362.0 862.9 L1364.9 861.6 L1367.9 860.4 L1370.8 859.1 L1373.8 857.8 L1376.7 856.5 L1379.6 855.1 L1382.6 853.8 L1385.5 852.4 L1388.4 850.9 L1391.4 849.5 L1394.3 848.0 L1397.2 846.5 L1400.1 845.0 L1403.1 843.4 L1406.8 841.3 L1409.1 840.1 L1410.5 839.3 L1411.4 838.8 L1411.9 838.6 L1412.3 838.4 L1412.8 838.3" fill="none" stroke="#62c3d3" stroke-width="11.7" stroke-linecap="round" stroke-linejoin="round"/>
<line x1="881.7" y1="1324.8" x2="1438.1" y2="815.1" stroke="#4d4d4d" stroke-width="4" stroke-dasharray="15 17.3" stroke-dashoffset="-20.7" clip-path="url(#cp4)"/>
<path d="M882.0 815.2 V1324.3 H1438.1" fill="none" stroke="#000" stroke-width="3.8" stroke-linejoin="round"/>
<path d="M907.0 1324.3 v10.3 M882.0 1301.6 h-10.7 M1033.5 1324.3 v10.3 M882.0 1185.8 h-10.7 M1159.9 1324.3 v10.3 M882.0 1069.9 h-10.7 M1286.3 1324.3 v10.3 M882.0 954.1 h-10.7 M1412.8 1324.3 v10.3 M882.0 838.3 h-10.7" fill="none" stroke="#000" stroke-width="3.6"/>
<text class="tick" x="907.0" y="1374.2" text-anchor="middle">0.00</text>
<text class="tick" x="863.2" y="1317.0" text-anchor="end">0.00</text>
<text class="tick" x="1033.5" y="1374.2" text-anchor="middle">0.25</text>
<text class="tick" x="863.2" y="1201.2" text-anchor="end">0.25</text>
<text class="tick" x="1159.9" y="1374.2" text-anchor="middle">0.50</text>
<text class="tick" x="863.2" y="1085.3" text-anchor="end">0.50</text>
<text class="tick" x="1286.3" y="1374.2" text-anchor="middle">0.75</text>
<text class="tick" x="863.2" y="969.5" text-anchor="end">0.75</text>
<text class="tick" x="1412.8" y="1374.2" text-anchor="middle">1.00</text>
<text class="tick" x="863.2" y="853.7" text-anchor="end">1.00</text>
<text class="ttl"><tspan class="mi" x="1017.9" y="768.8">h</tspan><tspan class="ms" x="1044.4" y="749.6">2</tspan><tspan class="ms" x="1044.0" y="778.4">1</tspan> <tspan class="meq" x="1076.4" y="770.1">=</tspan><tspan class="md" x="1111.6 1137.7 1148.1 1171.8" y="769.4">0.6,</tspan> <tspan class="mi" x="1197.0" y="768.8">h</tspan><tspan class="ms" x="1223.6" y="749.6">2</tspan><tspan class="ms" x="1223.6" y="778.4">2</tspan> <tspan class="meq" x="1256.2" y="770.1">=</tspan> <tspan class="md" x="1304.9 1331.5 1341.5" y="769.4">0.8</tspan></text>
</g>
<g id="panel6">
<clipPath id="cp5"><rect x="1590.7" y="815.2" width="556.1" height="509.1"/></clipPath>
<path d="M1615.7 1301.6 L1615.7 1301.3 L1615.7 1301.2 L1615.7 1301.1 L1615.7 1301.0 L1615.7 1300.8 L1615.7 1300.7 L1615.7 1300.5 L1615.7 1300.3 L1615.7 1300.0 L1615.7 1299.7 L1615.7 1299.3 L1615.7 1298.9 L1615.7 1298.4 L1615.7 1297.9 L1615.7 1297.3 L1615.7 1296.5 L1615.7 1295.7 L1615.7 1294.8 L1615.6 1293.7 L1615.6 1292.5 L1615.6 1291.2 L1615.6 1289.7 L1615.6 1288.0 L1615.6 1286.1 L1615.6 1284.1 L1615.6 1281.8 L1615.6 1279.3 L1615.6 1276.6 L1615.6 1273.6 L1615.6 1270.4 L1615.6 1266.8 L1615.6 1263.0 L1615.6 1258.9 L1615.7 1254.5 L1615.8 1249.7 L1615.9 1244.6 L1616.0 1239.2 L1616.2 1233.4 L1616.4 1227.3 L1616.6 1220.8 L1616.9 1213.9 L1617.3 1206.7 L1617.7 1199.0 L1618.3 1191.0 L1618.9 1182.7 L1619.8 1173.9 L1620.8 1164.8 L1622.0 1155.3 L1623.6 1145.4 L1625.5 1135.2 L1628.6 1121.2 L1631.7 1109.8 L1634.8 1100.0 L1638.0 1091.5 L1641.1 1083.9 L1644.2 1077.1 L1647.3 1070.9 L1650.4 1065.1 L1653.5 1059.8 L1656.6 1054.8 L1659.7 1050.2 L1662.8 1045.8 L1665.9 1041.7 L1669.0 1037.7 L1672.1 1034.0 L1675.1 1030.4 L1678.2 1027.0 L1681.3 1023.7 L1684.3 1020.5 L1687.4 1017.5 L1690.4 1014.5 L1693.5 1011.7 L1696.5 1008.9 L1699.6 1006.2 L1702.6 1003.6 L1705.6 1001.0 L1708.6 998.6 L1711.7 996.1 L1714.7 993.8 L1717.7 991.5 L1720.7 989.2 L1723.7 987.0 L1726.8 984.9 L1729.8 982.7 L1732.8 980.7 L1735.8 978.6 L1738.8 976.6 L1741.9 974.7 L1744.9 972.8 L1747.9 970.9 L1751.0 969.0 L1754.0 967.2 L1757.0 965.4 L1760.1 963.7 L1763.1 962.0 L1766.1 960.3 L1769.2 958.7 L1772.2 957.0 L1775.3 955.4 L1778.3 953.9 L1781.4 952.3 L1784.5 950.8 L1787.5 949.3 L1790.6 947.9 L1793.6 946.4 L1796.7 945.0 L1799.8 943.6 L1802.8 942.2 L1805.9 940.8 L1808.9 939.5 L1812.0 938.1 L1815.1 936.8 L1818.1 935.5 L1821.2 934.2 L1824.3 933.0 L1827.3 931.7 L1830.4 930.5 L1833.5 929.3 L1836.5 928.0 L1839.6 926.8 L1842.7 925.6 L1845.7 924.5 L1848.8 923.3 L1851.9 922.1 L1854.9 921.0 L1858.0 919.8 L1861.1 918.7 L1864.1 917.6 L1867.2 916.5 L1870.2 915.3 L1873.3 914.2 L1876.4 913.2 L1879.4 912.1 L1882.5 911.0 L1885.6 909.9 L1888.6 908.9 L1891.7 907.8 L1894.7 906.8 L1897.8 905.7 L1900.9 904.7 L1903.9 903.6 L1907.0 902.6 L1910.0 901.6 L1913.1 900.6 L1916.1 899.5 L1919.2 898.5 L1922.3 897.5 L1925.3 896.5 L1928.4 895.5 L1931.4 894.5 L1934.5 893.5 L1937.5 892.5 L1940.6 891.5 L1943.6 890.5 L1946.6 889.5 L1949.7 888.5 L1952.7 887.6 L1955.8 886.6 L1958.8 885.6 L1961.9 884.6 L1964.9 883.6 L1968.0 882.7 L1971.0 881.7 L1974.1 880.7 L1977.1 879.7 L1980.1 878.8 L1983.2 877.8 L1986.2 876.8 L1989.3 875.9 L1992.3 874.9 L1995.4 874.0 L1998.4 873.0 L2001.4 872.1 L2004.5 871.1 L2007.5 870.2 L2010.6 869.3 L2013.6 868.3 L2016.7 867.4 L2019.7 866.5 L2022.7 865.5 L2025.8 864.6 L2028.8 863.7 L2031.9 862.8 L2034.9 861.8 L2038.0 860.9 L2041.0 860.0 L2044.1 859.1 L2047.1 858.2 L2050.2 857.3 L2053.2 856.4 L2056.3 855.5 L2059.3 854.6 L2062.4 853.7 L2065.4 852.8 L2068.5 851.9 L2071.5 851.0 L2074.6 850.2 L2077.6 849.3 L2080.7 848.4 L2083.7 847.5 L2086.8 846.7 L2089.9 845.8 L2092.9 845.0 L2096.0 844.2 L2099.1 843.4 L2102.1 842.6 L2105.2 841.8 L2108.3 841.1 L2111.3 840.3 L2115.2 839.4 L2117.6 838.9 L2119.1 838.6 L2120.0 838.4 L2120.6 838.4 L2120.9 838.3 L2121.5 838.3" fill="none" stroke="#e64b35" stroke-width="11.7" stroke-linecap="round" stroke-linejoin="round"/>
<path d="M1615.7 1301.6 L1634.2 1160.1 L1634.2 1160.1 L1634.2 1160.1 L1634.2 1160.1 L1634.3 1160.1 L1634.3 1160.1 L1634.3 1160.1 L1634.3 1160.1 L1634.3 1160.1 L1634.3 1160.1 L1634.4 1160.0 L1634.4 1160.0 L1634.5 1160.0 L1634.5 1159.9 L1634.6 1159.8 L1634.7 1159.7 L1634.8 1159.6 L1634.9 1159.3 L1635.0 1159.1 L1635.2 1158.7 L1635.5 1158.2 L1635.7 1157.6 L1636.1 1156.8 L1636.5 1155.8 L1637.0 1154.5 L1637.6 1152.9 L1638.4 1151.0 L1639.3 1148.6 L1640.4 1145.8 L1641.9 1142.4 L1643.6 1138.3 L1646.5 1132.0 L1649.4 1126.0 L1652.4 1120.4 L1655.4 1115.1 L1658.4 1110.1 L1661.4 1105.3 L1664.3 1100.7 L1667.3 1096.2 L1670.3 1092.0 L1673.2 1087.9 L1676.2 1084.0 L1679.2 1080.2 L1682.1 1076.5 L1685.1 1072.9 L1688.0 1069.4 L1690.9 1066.1 L1693.9 1062.8 L1696.8 1059.6 L1699.8 1056.5 L1702.7 1053.4 L1705.6 1050.5 L1708.6 1047.6 L1711.5 1044.8 L1714.5 1042.0 L1717.4 1039.3 L1720.3 1036.6 L1723.3 1034.0 L1726.2 1031.5 L1729.2 1029.0 L1732.1 1026.6 L1735.0 1024.2 L1738.0 1021.8 L1740.9 1019.5 L1743.9 1017.2 L1746.8 1015.0 L1749.8 1012.8 L1752.7 1010.6 L1755.7 1008.5 L1758.6 1006.4 L1761.6 1004.4 L1764.5 1002.3 L1767.5 1000.3 L1770.4 998.4 L1773.4 996.4 L1776.3 994.5 L1779.3 992.6 L1782.2 990.7 L1785.1 988.8 L1788.1 987.0 L1791.0 985.2 L1794.0 983.4 L1796.9 981.6 L1799.8 979.9 L1802.8 978.1 L1805.7 976.4 L1808.6 974.7 L1811.6 973.0 L1814.5 971.4 L1817.4 969.7 L1820.4 968.1 L1823.3 966.4 L1826.2 964.8 L1829.2 963.2 L1832.1 961.7 L1835.0 960.1 L1838.0 958.6 L1840.9 957.0 L1843.8 955.5 L1846.8 954.0 L1849.7 952.5 L1852.6 951.0 L1855.6 949.6 L1858.5 948.1 L1861.4 946.7 L1864.4 945.3 L1867.3 943.8 L1870.3 942.4 L1873.2 941.1 L1876.2 939.7 L1879.1 938.3 L1882.0 937.0 L1885.0 935.7 L1887.9 934.3 L1890.9 933.0 L1893.8 931.7 L1896.8 930.4 L1899.8 929.2 L1902.7 927.9 L1905.7 926.7 L1908.6 925.4 L1911.6 924.2 L1914.6 923.0 L1917.5 921.7 L1920.5 920.5 L1923.4 919.3 L1926.4 918.1 L1929.4 917.0 L1932.3 915.8 L1935.3 914.6 L1938.2 913.4 L1941.2 912.3 L1944.2 911.1 L1947.1 909.9 L1950.1 908.8 L1953.0 907.6 L1956.0 906.5 L1958.9 905.3 L1961.9 904.1 L1964.8 903.0 L1967.8 901.8 L1970.7 900.7 L1973.7 899.5 L1976.6 898.4 L1979.6 897.2 L1982.5 896.1 L1985.4 894.9 L1988.4 893.8 L1991.3 892.6 L1994.3 891.5 L1997.2 890.3 L2000.2 889.2 L2003.1 888.0 L2006.0 886.9 L2009.0 885.8 L2011.9 884.6 L2014.9 883.5 L2017.8 882.3 L2020.7 881.2 L2023.7 880.0 L2026.6 878.9 L2029.6 877.7 L2032.5 876.6 L2035.4 875.4 L2038.4 874.3 L2041.3 873.1 L2044.2 872.0 L2047.2 870.8 L2050.1 869.6 L2053.1 868.5 L2056.0 867.3 L2058.9 866.1 L2061.9 864.9 L2064.8 863.8 L2067.8 862.6 L2070.7 861.4 L2073.6 860.2 L2076.6 858.9 L2079.5 857.7 L2082.5 856.5 L2085.4 855.2 L2088.3 854.0 L2091.3 852.7 L2094.2 851.4 L2097.1 850.0 L2100.1 848.7 L2103.0 847.3 L2105.9 845.9 L2108.9 844.5 L2111.8 843.1 L2115.5 841.2 L2117.8 840.0 L2119.2 839.3 L2120.1 838.8 L2120.6 838.6 L2121.0 838.5 L2121.5 838.3" fill="none" stroke="#62c3d3" stroke-width="11.7" stroke-linecap="round" stroke-linejoin="round"/>
<line x1="1590.4" y1="1324.8" x2="2146.8" y2="815.1" stroke="#4d4d4d" stroke-width="4" stroke-dasharray="15 17.3" stroke-dashoffset="-20.7" clip-path="url(#cp5)"/>
<path d="M1590.7 815.2 V1324.3 H2146.8" fill="none" stroke="#000" stroke-width="3.8" stroke-linejoin="round"/>
<path d="M1615.7 1324.3 v10.3 M1590.7 1301.6 h-10.7 M1742.2 1324.3 v10.3 M1590.7 1185.8 h-10.7 M1868.6 1324.3 v10.3 M1590.7 1069.9 h-10.7 M1995.1 1324.3 v10.3 M1590.7 954.1 h-10.7 M2121.5 1324.3 v10.3 M1590.7 838.3 h-10.7" fill="none" stroke="#000" stroke-width="3.6"/>
<text class="tick" x="1615.7" y="1374.2" text-anchor="middle">0.00</text>
<text class="tick" x="1571.9" y="1317.0" text-anchor="end">0.00</text>
<text class="tick" x="1742.2" y="1374.2" text-anchor="middle">0.25</text>
<text class="tick" x="1571.9" y="1201.2" text-anchor="end">0.25</text>
<text class="tick" x="1868.6" y="1374.2" text-anchor="middle">0.50</text>
<text class="tick" x="1571.9" y="1085.3" text-anchor="end">0.50</text>
<text class="tick" x="1995.1" y="1374.2" text-anchor="middle">0.75</text>
<text class="tick" x="1571.9" y="969.5" text-anchor="end">0.75</text>
<text class="tick" x="2121.5" y="1374.2" text-anchor="middle">1.00</text>
<text class="tick" x="1571.9" y="853.7" text-anchor="end">1.00</text>
<text class="ttl"><tspan class="mi" x="1735.6" y="768.8">h</tspan><tspan class="ms" x="1762.1" y="749.6">2</tspan><tspan class="ms" x="1761.7" y="778.4">1</tspan> <tspan class="meq" x="1794.1" y="770.1">=</tspan><tspan class="md" x="1829.3 1855.4 1865.8 1889.5" y="769.4">0.7,</tspan> <tspan class="mi" x="1914.7" y="768.8">h</tspan><tspan class="ms" x="1941.3" y="749.6">2</tspan><tspan class="ms" x="1941.3" y="778.4">2</tspan> <tspan class="meq" x="1973.9" y="770.1">=</tspan> <tspan class="md" x="2022.6 2049.2 2058.8" y="769.4">0.7</tspan></text>
</g>
<text class="axt" transform="translate(45.8 711.3) rotate(-90)" text-anchor="middle">Sensitivity</text>
<text class="axt" x="1161.3" y="1431" text-anchor="middle">1 - Specificity</text>
<g id="legend">
<text class="lgt" x="891.7" y="1550.8">Method</text>
<line x1="1058.7" y1="1537" x2="1111.3" y2="1537" stroke="#e64b35" stroke-width="12"/>
<text class="lgl" x="1139.6" y="1548.5">HDL-L</text>
<line x1="1262.7" y1="1537" x2="1315.3" y2="1537" stroke="#62c3d3" stroke-width="12"/>
<text class="lgl" x="1342.4" y="1548.5">LAVA</text>
</g>
</svg>
</body>
</html>
